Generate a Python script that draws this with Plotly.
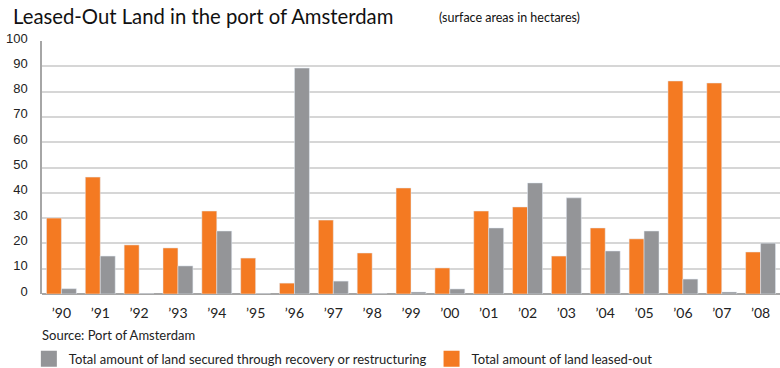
import plotly.graph_objects as go

years = ["’90", "’91", "’92", "’93", "’94", "’95", "’96", "’97", "’98", "’99",
         "’00", "’01", "’02", "’03", "’04", "’05", "’06", "’07", "’08"]
leased_out = [30, 46.2, 19.4, 18.2, 32.8, 14.2, 4.3, 29.2, 16.2, 41.9,
              10.3, 32.8, 34.4, 15.0, 26.1, 21.8, 84.2, 83.4, 16.6]
secured = [2.1, 15.0, 0, 11.1, 24.9, 0, 89.3, 5.1, 0, 0.8,
           2.0, 26.1, 43.9, 38.0, 17.0, 24.9, 5.9, 0.8, 20.1]
y_ticks = [0, 10, 20, 30, 40, 50, 60, 70, 80, 90, 100]

ORANGE = "#F47A22"
GRAY = "#949598"
FONT = "Lato"

fig = go.Figure()
fig.add_trace(go.Bar(x=years, y=leased_out, marker_color=ORANGE, showlegend=False,
                     name="Total amount of land leased-out"))
fig.add_trace(go.Bar(x=years, y=secured, marker_color=GRAY, showlegend=False,
                     name="Total amount of land secured through recovery or restructuring"))
# legend entries
fig.add_trace(go.Scatter(x=[None], y=[None], mode="markers",
                         marker=dict(symbol="square", size=16, color=GRAY),
                         name="Total amount of land secured through recovery or restructuring"))
fig.add_trace(go.Scatter(x=[None], y=[None], mode="markers",
                         marker=dict(symbol="square", size=16, color=ORANGE),
                         name="Total amount of land leased-out"))

fig.update_layout(
    width=780, height=368,
    margin=dict(l=42, r=0, t=41, b=74, autoexpand=False),
    paper_bgcolor="white", plot_bgcolor="white",
    barmode="group", bargap=0.23, bargroupgap=0,
    font=dict(family=FONT, color="#222222"),
    showlegend=True,
    legend=dict(orientation="h", xref="container", x=0.037, xanchor="left",
                yref="container", y=0.025, yanchor="middle",
                font=dict(family=FONT, size=13, color="#222222"),
                itemsizing="trace", bgcolor="rgba(0,0,0,0)"),
    xaxis=dict(type="category", range=[-0.5, 18.5], showgrid=False,
               showline=False, ticks="", tickfont=dict(family=FONT, size=14, color="#222222"),
               zeroline=False, ticklabelstandoff=9),
    yaxis=dict(range=[0, 100], tickvals=y_ticks, showgrid=True, gridcolor="#D6D6D6",
               gridwidth=1.5, showline=True, linecolor="#A6A6A6", linewidth=1.5,
               zeroline=True, zerolinecolor="#A6A6A6", zerolinewidth=2,
               ticks="", tickfont=dict(family="Liberation Sans", size=13, color="#222222"),
               ticklabelstandoff=10, ticklabelshift=-3),
    annotations=[
        dict(text="Leased-Out Land in the port of Amsterdam", xref="paper", yref="paper",
             x=-0.042, y=1.0, xanchor="left", yanchor="bottom", yshift=11, showarrow=False,
             font=dict(family=FONT, size=20.3, color="#111111")),
        dict(text="(surface areas in hectares)", xref="paper", yref="paper",
             x=0.535, y=1.0, xanchor="left", yanchor="bottom", yshift=14, showarrow=False,
             font=dict(family=FONT, size=12.5, color="#111111")),
        dict(text="Source: Port of Amsterdam", xref="paper", yref="paper",
             x=0, y=0, xanchor="left", yanchor="middle", yshift=-41, xshift=-2, showarrow=False,
             font=dict(family=FONT, size=13, color="#222222")),
    ],
)

fig.write_html("out.html")
